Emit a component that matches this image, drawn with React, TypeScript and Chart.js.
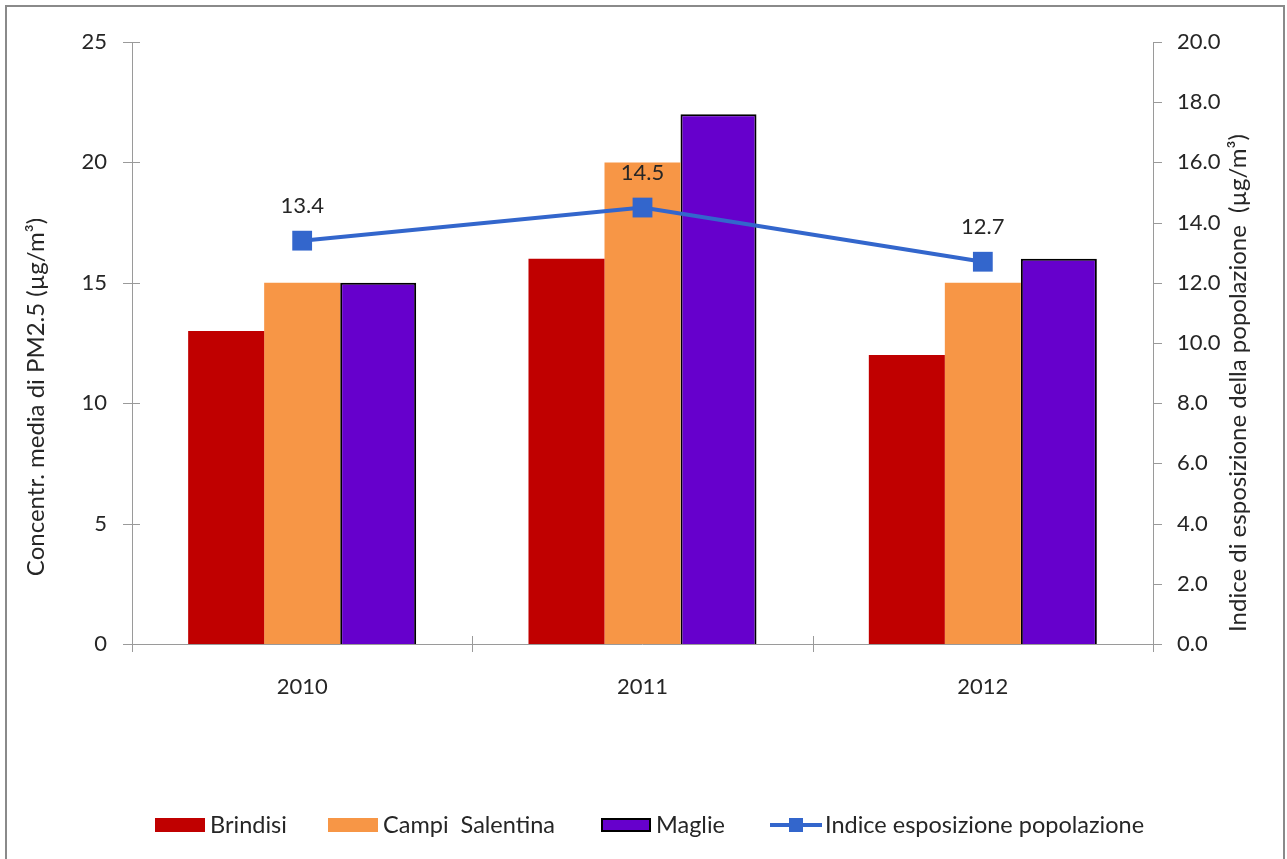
import React, { useEffect, useRef } from "react";
import { Chart, registerables } from "chart.js";

Chart.register(...registerables);

const categories = ["2010", "2011", "2012"];
const brindisi = [13, 16, 12];
const campiSalentina = [15, 20, 15];
const maglie = [15, 22, 16];
const indiceEsposizione = [13.4, 14.5, 12.7];
const leftTicks = [0, 5, 10, 15, 20, 25];
const rightTicks = [0, 2, 4, 6, 8, 10, 12, 14, 16, 18, 20];

const FONT = "Lato";
const AXIS_COLOR = "#9a9a9a";
const TEXT_COLOR = "#262626";
const C_BRINDISI = "#C00000";
const C_CAMPI = "#F79646";
const C_MAGLIE = "#6600CC";
const C_LINE = "#3366CC";

const decorPlugin = {
  id: "decor",
  beforeDraw(chart: any) {
    const ctx = chart.ctx;
    ctx.save();
    ctx.fillStyle = "#ffffff";
    ctx.fillRect(0, 0, chart.width, chart.height);
    ctx.strokeStyle = "#8a8a8a";
    ctx.lineWidth = 2;
    ctx.strokeRect(6, 6, 1278, 900);
    ctx.restore();
  },
  afterDraw(chart: any) {
    const ctx = chart.ctx;
    const { x, y, y1 } = chart.scales;
    const area = chart.chartArea;
    ctx.save();
    ctx.strokeStyle = AXIS_COLOR;
    ctx.lineWidth = 1;
    ctx.beginPath();
    ctx.moveTo(area.left + 0.5, area.top);
    ctx.lineTo(area.left + 0.5, area.bottom);
    ctx.moveTo(area.right + 0.5, area.top);
    ctx.lineTo(area.right + 0.5, area.bottom);
    ctx.moveTo(area.left, area.bottom + 0.5);
    ctx.lineTo(area.right, area.bottom + 0.5);
    leftTicks.forEach((v) => {
      const py = Math.round(y.getPixelForValue(v)) + 0.5;
      ctx.moveTo(area.left - 9, py);
      ctx.lineTo(area.left + 8, py);
    });
    rightTicks.forEach((v) => {
      const py = Math.round(y1.getPixelForValue(v)) + 0.5;
      ctx.moveTo(area.right, py);
      ctx.lineTo(area.right + 9, py);
    });
    for (let i = 0; i <= categories.length; i++) {
      const px = Math.round(x.getPixelForValue(i - 0.5)) + 0.5;
      ctx.moveTo(px, area.bottom - 8);
      ctx.lineTo(px, area.bottom + 8);
    }
    ctx.stroke();

    ctx.fillStyle = TEXT_COLOR;
    ctx.font = `22px ${FONT}`;
    ctx.textAlign = "center";
    ctx.textBaseline = "middle";
    const meta = chart.getDatasetMeta(3);
    meta.data.forEach((pt: any, i: number) => {
      ctx.fillText(indiceEsposizione[i].toFixed(1), pt.x, pt.y - 35);
    });

    ctx.font = `24px ${FONT}`;
    ctx.save();
    ctx.translate(36, 397);
    ctx.rotate(-Math.PI / 2);
    ctx.fillText("Concentr. media di PM2.5 (µg/m³)", 0, 0);
    ctx.restore();
    ctx.save();
    ctx.translate(1238, 383);
    ctx.rotate(-Math.PI / 2);
    ctx.fillText("Indice di esposizione della popolazione  (µg/m³)", 0, 0);
    ctx.restore();

    const ly = 825;
    ctx.textAlign = "left";
    ctx.font = `23.5px ${FONT}`;
    const items = [
      { label: "Brindisi", x: 155, kind: "bar", color: C_BRINDISI, border: false },
      { label: "Campi  Salentina", x: 328, kind: "bar", color: C_CAMPI, border: false },
      { label: "Maglie", x: 601, kind: "bar", color: C_MAGLIE, border: true },
      { label: "Indice esposizione popolazione", x: 770, kind: "line", color: C_LINE, border: false },
    ];
    items.forEach((it) => {
      if (it.kind === "bar") {
        ctx.fillStyle = it.color;
        ctx.fillRect(it.x, ly - 7, 50, 14);
        if (it.border) {
          ctx.strokeStyle = "#000";
          ctx.lineWidth = 2;
          ctx.strokeRect(it.x + 1, ly - 6, 48, 12);
        }
      } else {
        ctx.strokeStyle = it.color;
        ctx.lineWidth = 4;
        ctx.beginPath();
        ctx.moveTo(it.x, ly);
        ctx.lineTo(it.x + 52, ly);
        ctx.stroke();
        ctx.fillStyle = it.color;
        ctx.fillRect(it.x + 26 - 7, ly - 7, 14, 14);
      }
      ctx.fillStyle = TEXT_COLOR;
      ctx.fillText(it.label, it.x + 55, ly);
    });
    ctx.restore();
  },
};

export default function App() {
  const ref = useRef<HTMLCanvasElement | null>(null);
  useEffect(() => {
    if (!ref.current) return;
    const chart = new Chart(ref.current, {
      type: "bar",
      data: {
        labels: categories,
        datasets: [
          { label: "Brindisi", data: brindisi, backgroundColor: C_BRINDISI, borderWidth: 0, yAxisID: "y", order: 2 },
          { label: "Campi  Salentina", data: campiSalentina, backgroundColor: C_CAMPI, borderWidth: 0, yAxisID: "y", order: 2 },
          { label: "Maglie", data: maglie, backgroundColor: C_MAGLIE, borderColor: "#000000", borderWidth: 2, yAxisID: "y", order: 2 },
          {
            type: "line",
            label: "Indice esposizione popolazione",
            data: indiceEsposizione,
            borderColor: C_LINE,
            backgroundColor: C_LINE,
            borderWidth: 4,
            pointStyle: "rect",
            pointRadius: 14,
            pointHoverRadius: 14,
            pointBorderWidth: 0,
            pointBackgroundColor: C_LINE,
            yAxisID: "y1",
            order: 0,
            tension: 0,
          } as any,
        ],
      },
      options: {
        animation: false,
        responsive: false,
        maintainAspectRatio: false,
        layout: { padding: { top: 42, left: 0, right: 0, bottom: 0 } },
        plugins: { legend: { display: false }, tooltip: { enabled: false }, title: { display: false } },
        datasets: { bar: { barPercentage: 1, categoryPercentage: 0.67 } } as any,
        scales: {
          x: {
            type: "category",
            offset: true,
            grid: { display: false, drawTicks: false },
            border: { display: false },
            ticks: { color: TEXT_COLOR, font: { family: FONT, size: 22 }, padding: 30 },
            afterFit: (s: any) => { s.height = 215; },
          },
          y: {
            type: "linear",
            position: "left",
            min: 0,
            max: 25,
            grid: { display: false, drawTicks: false },
            border: { display: false },
            ticks: { stepSize: 5, color: TEXT_COLOR, font: { family: FONT, size: 22 }, padding: 25 },
            afterFit: (s: any) => { s.width = 132; },
          },
          y1: {
            type: "linear",
            position: "right",
            min: 0,
            max: 20,
            grid: { display: false, drawTicks: false },
            border: { display: false },
            ticks: {
              stepSize: 2,
              color: TEXT_COLOR,
              font: { family: FONT, size: 22 },
              padding: 24,
              callback: (v: any) => Number(v).toFixed(1),
            },
            afterFit: (s: any) => { s.width = 134; },
          },
        },
      } as any,
      plugins: [decorPlugin],
    });
    return () => chart.destroy();
  }, []);
  return (
    <div style={{ position: "fixed", left: 0, top: 0, width: 1287, height: 859, overflow: "hidden", background: "#fff" }}>
      <canvas ref={ref} width={1287} height={859} style={{ display: "block" }} />
    </div>
  );
}
